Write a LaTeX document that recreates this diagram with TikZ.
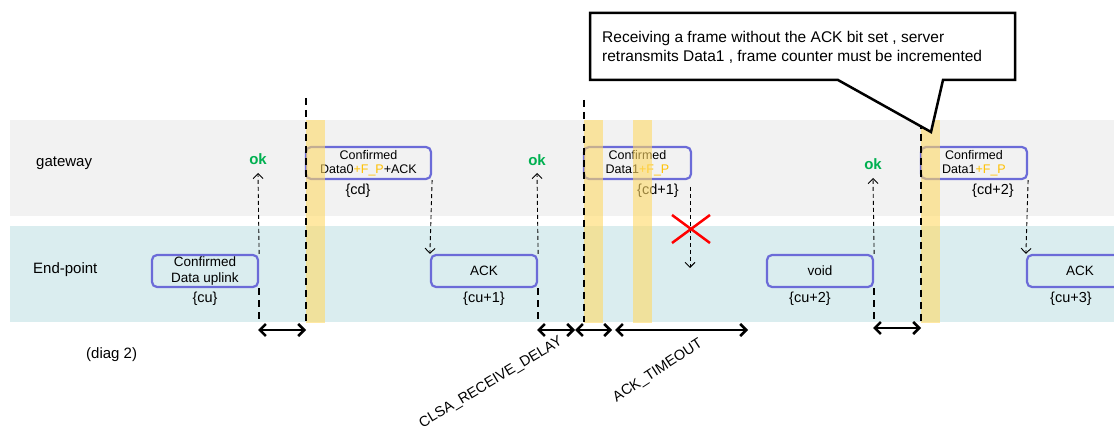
\documentclass[tikz,border=0pt]{standalone}
\usepackage{fontspec}
\setmainfont{Liberation Sans}
\usetikzlibrary{arrows.meta}
\definecolor{gwgray}{HTML}{F2F2F2}
\definecolor{epcyan}{HTML}{DAEDEF}
\definecolor{boxblue}{HTML}{6B6BD8}
\definecolor{baryel}{HTML}{FFD966}
\definecolor{fporange}{HTML}{FFC000}
\definecolor{okgreen}{HTML}{00B050}
\begin{document}
\begin{tikzpicture}[x=1pt,y=-1pt,
  msgbox/.style={draw=boxblue,line width=2.2pt,rounded corners=5pt,minimum height=32pt,inner sep=0pt,align=center},
  gwtext/.style={font=\fontsize{12.5}{14}\selectfont},
  eptext/.style={font=\fontsize{13.5}{16}\selectfont},
  idlabel/.style={font=\fontsize{14.5}{17}\selectfont,inner sep=0pt},
  oklabel/.style={font=\fontsize{15}{17}\selectfont\bfseries,text=okgreen,inner sep=0pt},
  lanelabel/.style={font=\fontsize{15}{17}\selectfont,inner sep=0pt,anchor=west},
  bar/.style={fill=baryel,opacity=0.6},
  bigdash/.style={line width=2pt,dash pattern=on 7pt off 5pt},
  thinarrow/.style={line width=0.9pt,dash pattern=on 4pt off 3pt,-{Straight Barb[length=5pt,width=10pt]}},
  span/.style={line width=2.5pt,{Straight Barb[length=6pt,width=12pt]}-{Straight Barb[length=6pt,width=12pt]}},
  cross/.style={red,line width=2.5pt},
  callout/.style={draw=black,fill=white,line width=2.5pt,line join=miter},
]
\useasboundingbox (0,0) rectangle (1114,430);
\clip (0,0) rectangle (1114,430);
% lanes
\fill[gwgray] (10,120) rectangle (1114,216);
\fill[epcyan] (10,226) rectangle (1114,322);
\coordinate (lanebottom) at (0,322);
\node[lanelabel] (gwlabel) at (36,163) {gateway};
\node[lanelabel] (eplabel) at (33,270) {End-point};
\node[lanelabel] (diag) at (86,355) {(diag 2)};
% message boxes
\node[msgbox,eptext,minimum width=106pt] (ep1) at (205,271) {Confirmed\\Data uplink};
\node[msgbox,gwtext,minimum width=125pt] (gw1) at (368.5,163) {Confirmed\\Data0{\color{fporange}+F\_P}+ACK};
\node[msgbox,eptext,minimum width=106pt] (ep2) at (484,271) {ACK};
\node[msgbox,gwtext,minimum width=107pt] (gw2) at (637.5,163) {Confirmed\\Data1{\color{fporange}+F\_P}};
\node[msgbox,eptext,minimum width=106pt] (ep3) at (820,271) {void};
\node[msgbox,gwtext,minimum width=106pt] (gw3) at (974,163) {Confirmed\\Data1{\color{fporange}+F\_P}};
\node[msgbox,eptext,minimum width=106pt] (ep4) at (1080,271) {ACK};
% counters
\node[idlabel] (cu0) at (205,299) {\{cu\}};
\node[idlabel] (cd0) at (358,191) {\{cd\}};
\node[idlabel] (cu1) at (484,299) {\{cu+1\}};
\node[idlabel] (cd1) at (658,191) {\{cd+1\}};
\node[idlabel] (cu2) at (810,299) {\{cu+2\}};
\node[idlabel] (cd2) at (993,191) {\{cd+2\}};
\node[idlabel] (cu3) at (1071,299) {\{cu+3\}};
% yellow windows
\fill[bar] (306,120) rectangle (325,323);
\fill[bar] (584,120) rectangle (603,323);
\fill[bar] (633,120) rectangle (652,323);
\fill[bar] (921,120) rectangle (940,323);
% ok markers
\node[oklabel] (ok1) at (258,159) {ok};
\node[oklabel] (ok2) at (537,160) {ok};
\node[oklabel] (ok3) at (873,164) {ok};
\coordinate (t1) at (258,173);
\coordinate (t2) at (537,173);
\coordinate (t3) at (873,178);
\draw[thinarrow] (ep1.north east) -- (t1);
\draw[thinarrow] (ep2.north east) -- (t2);
\draw[thinarrow] (ep3.north east) -- (t3);
\draw[bigdash] (ep1.south east) -- (ep1.south east |- lanebottom);
\draw[bigdash] (ep2.south east) -- (ep2.south east |- lanebottom);
\draw[bigdash] (ep3.south east) -- (ep3.south east |- lanebottom);
% tx start lines
\coordinate (v1) at (306,98);
\coordinate (v2) at (584,100);
\coordinate (v3) at (921,98);
\draw[bigdash] (v1) -- (v1 |- lanebottom);
\draw[bigdash] (v2) -- (v2 |- lanebottom);
\draw[bigdash] (v3) -- (v3 |- lanebottom);
% downlinks
\draw[thinarrow] (gw1.south east) -- (ep2.north west);
\coordinate (d2a) at (690,187);
\coordinate (d2b) at (690,268);
\draw[thinarrow] (d2a) -- (d2b);
\draw[thinarrow] (gw3.south east) -- (ep4.north west);
% lost frame
\draw[cross] (672,215) -- (710,243);
\draw[cross] (672,243) -- (710,215);
% timing spans
\coordinate (s1a) at (258,330);
\coordinate (s1b) at (306,330);
\coordinate (s2a) at (537,330);
\coordinate (s2m) at (575,330);
\coordinate (s2b) at (612,330);
\coordinate (s3a) at (615,330);
\coordinate (s3b) at (748,330);
\coordinate (s4a) at (873,328);
\coordinate (s4b) at (921,328);
\draw[span] (s1a) -- (s1b);
\draw[span] (s2a) -- (s2m);
\draw[span] (s2m) -- (s2b);
\draw[span] (s3a) -- (s3b);
\draw[span] (s4a) -- (s4b);
\node[font=\fontsize{14.5}{17}\selectfont,rotate=31,inner sep=0pt] (delay) at (491,383) {CLSA\_RECEIVE\_DELAY};
\node[font=\fontsize{14.5}{17}\selectfont,rotate=33,inner sep=0pt] (timeout) at (658,371) {ACK\_TIMEOUT};
% callout
\draw[callout] (590,13) -- (1015,13) -- (1015,80) -- (943,80) -- (931,132) -- (838,80) -- (590,80) -- cycle;
\node[anchor=west,align=left,font=\fontsize{15.5}{19}\selectfont,inner sep=0pt] (note) at (602,47) {Receiving a frame without the ACK bit set , server\\retransmits Data1 , frame counter must be incremented};
\end{tikzpicture}
\end{document}
